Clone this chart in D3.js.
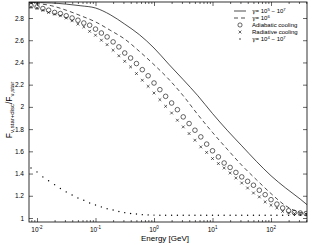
<!DOCTYPE html>
<html>
<head>
<meta charset="utf-8">
<script src="https://cdn.jsdelivr.net/npm/d3@7"></script>
<style>
  body { margin: 0; background: #fff; }
  svg { display: block; font-family: "Liberation Sans", Arial, sans-serif; }
</style>
</head>
<body>
<script>
// data
var energy = [0.0079, 0.01, 0.0126, 0.0158, 0.02, 0.0251, 0.0316, 0.0398, 0.0501, 0.0631,
  0.0794, 0.1, 0.126, 0.158, 0.2, 0.251, 0.316, 0.398, 0.501, 0.631,
  0.794, 1, 1.26, 1.58, 2, 2.51, 3.16, 3.98, 5.01, 6.31,
  7.94, 10, 12.6, 15.8, 20, 25.1, 31.6, 39.8, 50.1, 63.1,
  79.4, 100, 126, 158, 200, 251, 316, 398];

var adiabatic = [2.91, 2.90, 2.885, 2.87, 2.85, 2.84, 2.82, 2.80, 2.78, 2.755,
  2.735, 2.70, 2.665, 2.63, 2.585, 2.54, 2.485, 2.44, 2.39, 2.335,
  2.28, 2.215, 2.155, 2.095, 2.035, 1.975, 1.91, 1.85, 1.79, 1.73,
  1.665, 1.605, 1.55, 1.495, 1.455, 1.41, 1.37, 1.33, 1.295, 1.25,
  1.21, 1.165, 1.125, 1.09, 1.065, 1.05, 1.045, 1.04];

var radiative = [2.90, 2.89, 2.87, 2.85, 2.835, 2.82, 2.80, 2.775, 2.745, 2.72,
  2.68, 2.645, 2.60, 2.56, 2.51, 2.46, 2.41, 2.36, 2.30, 2.24,
  2.185, 2.125, 2.065, 2.005, 1.945, 1.88, 1.82, 1.76, 1.70, 1.64,
  1.59, 1.535, 1.49, 1.45, 1.405, 1.36, 1.315, 1.27, 1.225, 1.19,
  1.145, 1.115, 1.09, 1.06, 1.045, 1.04, 1.035, 1.035];

var gammaWide = [1.45, 1.415, 1.37, 1.335, 1.30, 1.265, 1.235, 1.207, 1.18, 1.16,
  1.135, 1.117, 1.10, 1.083, 1.072, 1.058, 1.048, 1.04, 1.036, 1.03,
  1.028, 1.026, 1.025, 1.025, 1.025, 1.025, 1.025, 1.025, 1.025, 1.025,
  1.025, 1.025, 1.025, 1.025, 1.025, 1.025, 1.025, 1.025, 1.025, 1.025,
  1.025, 1.025, 1.025, 1.025, 1.025, 1.025, 1.025, 1.025];

var lineEnergy = [0.0073, 0.0178, 0.0316, 0.0562, 0.1, 0.178, 0.316, 0.562, 1, 1.78,
  3.16, 5.62, 10, 17.8, 31.6, 56.2, 100, 178, 316, 412];

var gamma57 = [2.94, 2.935, 2.925, 2.91, 2.89, 2.83, 2.745, 2.65, 2.53, 2.385,
  2.245, 2.10, 1.94, 1.79, 1.65, 1.51, 1.38, 1.27, 1.17, 1.12];

var gamma6 = [2.935, 2.91, 2.87, 2.82, 2.765, 2.69, 2.61, 2.5, 2.38, 2.25,
  2.10, 1.93, 1.77, 1.62, 1.475, 1.345, 1.22, 1.11, 1.05, 1.04];

var yTicks = [1, 1.2, 1.4, 1.6, 1.8, 2, 2.2, 2.4, 2.6, 2.8];
var xTicks = [0.01, 0.1, 1, 10, 100];
var xTickExp = ["-2", "-1", "0", "1", "2"];

// layout
var width = 313, height = 245;
var pLeft = 29, pRight = 307, pTop = 2, pBottom = 222;

var svg = d3.select("body").append("svg")
  .attr("width", width)
  .attr("height", height);

var x = d3.scaleLog().domain([0.0073, 412]).range([pLeft, pRight]);
var y = d3.scaleLinear().domain([0.964, 2.944]).range([pBottom, pTop]);

svg.append("defs").append("clipPath").attr("id", "clip")
  .append("rect")
  .attr("x", pLeft).attr("y", pTop)
  .attr("width", pRight - pLeft).attr("height", pBottom - pTop);

// minor ticks of the log axis
var minor = [];
for (var p = -3; p <= 2; p++) {
  for (var m = 2; m <= 9; m++) {
    var v = m * Math.pow(10, p);
    if (v > x.domain()[0] && v < x.domain()[1]) minor.push(v);
  }
}

function styleAxis(g) {
  g.select(".domain").remove();
  g.selectAll("line").attr("stroke", "#000").attr("stroke-width", 0.6);
}

svg.append("g").attr("transform", "translate(0," + pBottom + ")")
  .call(d3.axisBottom(x).tickValues(xTicks).tickSize(-4).tickFormat(""))
  .call(styleAxis);
svg.append("g").attr("transform", "translate(0," + pBottom + ")")
  .call(d3.axisBottom(x).tickValues(minor).tickSize(-2).tickFormat(""))
  .call(styleAxis);
svg.append("g").attr("transform", "translate(0," + pTop + ")")
  .call(d3.axisTop(x).tickValues(xTicks).tickSize(-4).tickFormat(""))
  .call(styleAxis);
svg.append("g").attr("transform", "translate(0," + pTop + ")")
  .call(d3.axisTop(x).tickValues(minor).tickSize(-2).tickFormat(""))
  .call(styleAxis);

var yAxis = svg.append("g").attr("transform", "translate(" + pLeft + ",0)")
  .call(d3.axisLeft(y).tickValues(yTicks).tickSize(-4).tickPadding(5)
    .tickFormat(d3.format("~g")))
  .call(styleAxis);
yAxis.selectAll("text").attr("font-size", 6.5).attr("fill", "#000")
  .attr("font-family", "Liberation Sans, Arial, sans-serif");

svg.append("g").attr("transform", "translate(" + pRight + ",0)")
  .call(d3.axisRight(y).tickValues(yTicks).tickSize(-4).tickFormat(""))
  .call(styleAxis);

// x tick labels as 10^n
xTicks.forEach(function(d, i) {
  var t = svg.append("text")
    .attr("x", x(d))
    .attr("y", 232)
    .attr("text-anchor", "middle")
    .attr("font-size", 6.5)
    .attr("fill", "#000");
  t.append("tspan").text("10");
  t.append("tspan").attr("dy", -3).attr("font-size", 4.5).text(xTickExp[i]);
});

// box
svg.append("rect")
  .attr("x", pLeft).attr("y", pTop)
  .attr("width", pRight - pLeft).attr("height", pBottom - pTop)
  .attr("fill", "none")
  .attr("stroke", "#000")
  .attr("stroke-width", 0.8);

var plot = svg.append("g").attr("clip-path", "url(#clip)");

var line = d3.line()
  .x(function(d) { return x(d[0]); })
  .y(function(d) { return y(d[1]); })
  .curve(d3.curveMonotoneX);

plot.append("path")
  .datum(d3.zip(lineEnergy, gamma57))
  .attr("d", line)
  .attr("fill", "none")
  .attr("stroke", "#000")
  .attr("stroke-width", 0.7);

plot.append("path")
  .datum(d3.zip(lineEnergy, gamma6))
  .attr("d", line)
  .attr("fill", "none")
  .attr("stroke", "#000")
  .attr("stroke-width", 0.7)
  .attr("stroke-dasharray", "4,3");

plot.selectAll(".adia")
  .data(d3.zip(energy, adiabatic))
  .enter().append("circle")
  .attr("class", "adia")
  .attr("cx", function(d) { return x(d[0]); })
  .attr("cy", function(d) { return y(d[1]); })
  .attr("r", 2.3)
  .attr("fill", "none")
  .attr("stroke", "#000")
  .attr("stroke-width", 0.6);

function cross(cx, cy, s) {
  return "M" + (cx - s) + "," + (cy - s) + "L" + (cx + s) + "," + (cy + s) +
    "M" + (cx - s) + "," + (cy + s) + "L" + (cx + s) + "," + (cy - s);
}

plot.selectAll(".rad")
  .data(d3.zip(energy, radiative))
  .enter().append("path")
  .attr("class", "rad")
  .attr("d", function(d) { return cross(x(d[0]), y(d[1]), 1.4); })
  .attr("stroke", "#000")
  .attr("stroke-width", 0.6);

plot.selectAll(".wide")
  .data(d3.zip(energy, gammaWide))
  .enter().append("circle")
  .attr("class", "wide")
  .attr("cx", function(d) { return x(d[0]); })
  .attr("cy", function(d) { return y(d[1]); })
  .attr("r", 0.7)
  .attr("fill", "#000");

// legend
var lx = 234, tx = 252;
var ly = [11, 18, 25, 32, 39];
var legend = svg.append("g").attr("font-size", 6).attr("fill", "#000");

legend.append("line").attr("x1", lx).attr("x2", lx + 12).attr("y1", ly[0]).attr("y2", ly[0])
  .attr("stroke", "#000").attr("stroke-width", 0.7);
legend.append("line").attr("x1", lx).attr("x2", lx + 12).attr("y1", ly[1]).attr("y2", ly[1])
  .attr("stroke", "#000").attr("stroke-width", 0.7).attr("stroke-dasharray", "4,3");
legend.append("circle").attr("cx", lx + 6).attr("cy", ly[2]).attr("r", 2.1)
  .attr("fill", "none").attr("stroke", "#000").attr("stroke-width", 0.6);
legend.append("path").attr("d", cross(lx + 6, ly[3], 1.4))
  .attr("stroke", "#000").attr("stroke-width", 0.6);
legend.append("circle").attr("cx", lx + 6).attr("cy", ly[4]).attr("r", 0.7).attr("fill", "#000");

function gammaLabel(yy, parts) {
  var t = legend.append("text").attr("x", tx).attr("y", yy + 2);
  t.append("tspan").attr("font-family", "DejaVu Serif, serif").text("\u03b3");
  t.append("tspan").text("= ");
  parts.forEach(function(p) {
    if (p.sup) t.append("tspan").attr("dy", -2.5).attr("font-size", 4.2).text(p.sup);
    else t.append("tspan").attr("dy", p.down ? 2.5 : 0).text(p.txt);
  });
}
gammaLabel(ly[0], [{txt: "10"}, {sup: "5"}, {txt: " \u2212 10", down: true}, {sup: "7"}]);
gammaLabel(ly[1], [{txt: "10"}, {sup: "6"}]);
legend.append("text").attr("x", tx).attr("y", ly[2] + 2).text("Adiabatic cooling");
legend.append("text").attr("x", tx).attr("y", ly[3] + 2).text("Radiative cooling");
gammaLabel(ly[4], [{txt: "10"}, {sup: "4"}, {txt: " \u2212 10", down: true}, {sup: "7"}]);

// axis titles
svg.append("text")
  .attr("x", 165)
  .attr("y", 241)
  .attr("text-anchor", "middle")
  .attr("font-size", 8)
  .attr("fill", "#000")
  .text("Energy [GeV]");

var yl = svg.append("text")
  .attr("transform", "translate(12,110) rotate(-90)")
  .attr("text-anchor", "middle")
  .attr("font-size", 8.5)
  .attr("fill", "#000");
yl.append("tspan").text("F");
yl.append("tspan").attr("dy", 2).attr("font-size", 6).text("\u03bd,star+disc");
yl.append("tspan").attr("dy", -2).text("/F");
yl.append("tspan").attr("dy", 2).attr("font-size", 6).text("\u03bd,star");
</script>
</body>
</html>
